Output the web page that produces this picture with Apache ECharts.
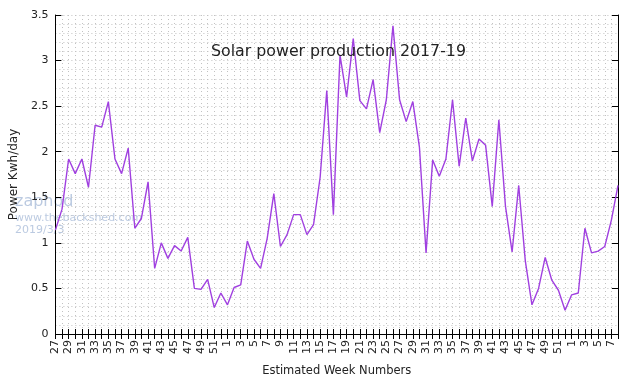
<!DOCTYPE html>
<html>
<head>
<meta charset="utf-8">
<script src="https://cdn.jsdelivr.net/npm/echarts@6/dist/echarts.min.js"></script>
<style>
  html, body { margin: 0; padding: 0; background: #fff; }
  #chart { width: 639px; height: 383px; }
</style>
</head>
<body>
<div id="chart"></div>
<script>
// week numbers on the x axis (mid 2017 .. early 2019)
const weeks = [
  "27","28","29","30","31","32","33","34","35","36","37","38","39","40","41","42","43","44","45","46","47","48","49","50","51","52",
  "1","2","3","4","5","6","7","8","9","10","11","12","13","14","15","16","17","18","19","20","21","22","23","24","25","26",
  "27","28","29","30","31","32","33","34","35","36","37","38","39","40","41","42","43","44","45","46","47","48","49","50","51","52",
  "1","2","3","4","5","6","7","8"
];
// average kWh per day for each week
const power = [
  1.14, 1.37, 1.92, 1.76, 1.92, 1.61, 2.29, 2.27, 2.55, 1.92, 1.76, 2.04, 1.16, 1.27, 1.67, 0.72,
  1.00, 0.83, 0.97, 0.91, 1.06, 0.50, 0.49, 0.60, 0.29, 0.45,
  0.32, 0.51, 0.54, 1.02, 0.82, 0.72, 1.05, 1.54, 0.96, 1.09, 1.31, 1.31, 1.09, 1.20, 1.72, 2.67,
  1.31, 3.06, 2.60, 3.24, 2.56, 2.47, 2.79, 2.21, 2.57, 3.38,
  2.57, 2.33, 2.55, 2.05, 0.89, 1.91, 1.73, 1.92, 2.57, 1.84, 2.37, 1.90, 2.14, 2.07, 1.40, 2.35,
  1.40, 0.90, 1.63, 0.80, 0.32, 0.50, 0.84, 0.59, 0.48, 0.26,
  0.43, 0.45, 1.16, 0.89, 0.91, 0.96, 1.25, 1.63
];

const chart = echarts.init(document.getElementById("chart"));
const font = "DejaVu Sans";
const dots = { color: "#c2c2c2", type: [1, 3], width: 1 };

const option = {
  animation: false,
  title: {
    text: "Solar power production 2017-19",
    left: 206,
    top: 39,
    textStyle: { fontFamily: font, fontSize: 15.8, fontWeight: "normal", color: "#222" }
  },
  grid: { left: 48, top: 15, right: 21, bottom: 49 },
  xAxis: [
    {
      type: "category",
      data: weeks,
      boundaryGap: false,
      name: "Estimated Week Numbers",
      nameLocation: "middle",
      nameGap: 31,
      nameTextStyle: { fontFamily: font, fontSize: 11.5, color: "#222" },
      axisLine: { lineStyle: { color: "#000", width: 1 } },
      axisTick: { inside: true, length: 5, interval: 0, lineStyle: { color: "#000" } },
      axisLabel: { interval: 1, rotate: 90, fontFamily: font, fontSize: 11, color: "#222", margin: 6 },
      splitLine: { show: true, interval: 0, lineStyle: dots }
    },
    {
      type: "category",
      data: weeks,
      boundaryGap: false,
      position: "top",
      axisLine: { lineStyle: { color: "#000", width: 1 } },
      axisTick: { inside: true, length: 5, interval: 0, lineStyle: { color: "#000" } },
      axisLabel: { show: false },
      splitLine: { show: false }
    }
  ],
  yAxis: [
    {
      type: "value",
      min: 0,
      max: 3.5,
      interval: 0.5,
      name: "Power Kwh/day",
      nameLocation: "middle",
      nameGap: 31,
      nameTextStyle: { fontFamily: font, fontSize: 12, color: "#222" },
      axisLine: { show: true, lineStyle: { color: "#000", width: 1 } },
      axisTick: { show: true, inside: true, length: 6, lineStyle: { color: "#000" } },
      axisLabel: { fontFamily: font, fontSize: 11, color: "#222", margin: 7 },
      splitLine: { show: true, lineStyle: dots },
      minorTick: { show: false, splitNumber: 5 },
      minorSplitLine: { show: true, lineStyle: dots }
    },
    {
      type: "value",
      min: 0,
      max: 3.5,
      interval: 0.5,
      position: "right",
      axisLine: { show: true, lineStyle: { color: "#000", width: 1 } },
      axisTick: { show: true, inside: true, length: 6, lineStyle: { color: "#000" } },
      axisLabel: { show: false },
      splitLine: { show: false }
    }
  ],
  graphic: [
    { type: "text", left: 15, top: 194, silent: true,
      style: { text: "zaphod", font: "16px DejaVu Sans", fill: "rgba(120,150,195,0.5)" } },
    { type: "text", left: 15, top: 213, silent: true,
      style: { text: "www.thebackshed.com", font: "11px DejaVu Sans", fill: "rgba(120,150,195,0.5)" } },
    { type: "text", left: 15, top: 225, silent: true,
      style: { text: "2019/3/3", font: "11px DejaVu Sans", fill: "rgba(120,150,195,0.5)" } }
  ],
  series: [
    {
      type: "line",
      data: power,
      symbol: "none",
      lineStyle: { color: "#a040e0", width: 1.4 },
      z: 3
    }
  ]
};
chart.setOption(option);
</script>
</body>
</html>
